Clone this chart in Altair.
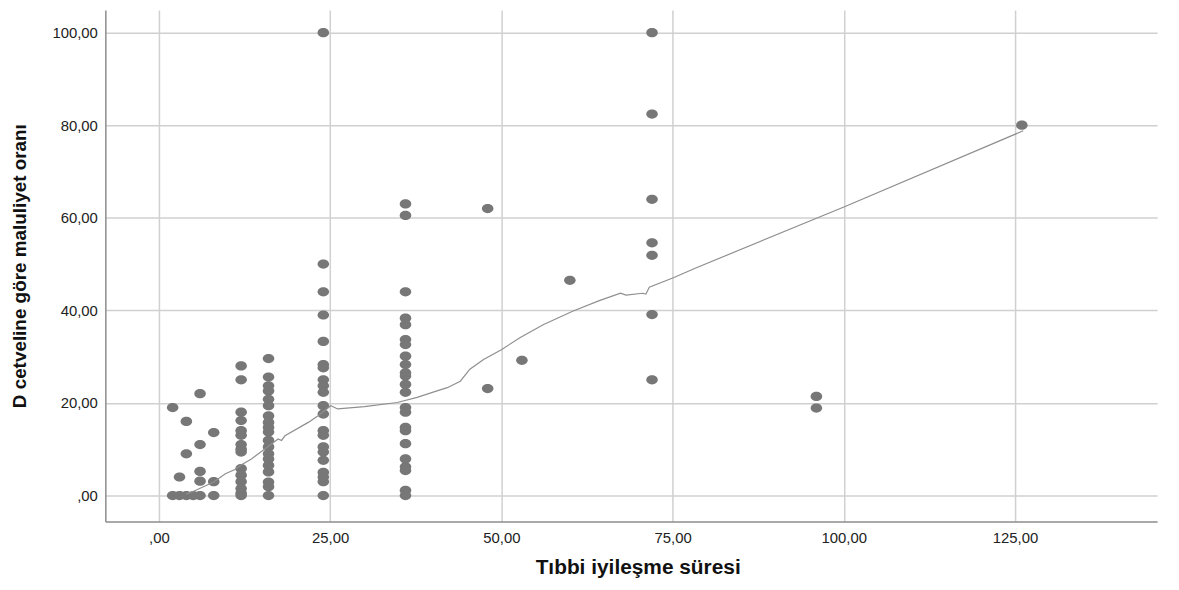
import altair as alt
import pandas as pd

# Data (x = months, y = disability rate)
r_02 = [19.0, 0.0]
r_03 = [4.0, 0.0]
r_04 = [16.0, 9.0, 0.0]
r_05 = [0.0]
r_06 = [22.0, 11.0, 5.2, 3.1, 0.0]
r_08 = [13.6, 3.0, 0.0]
r_12 = [28.0, 25.0, 18.0, 16.2, 14.0, 13.0, 11.0, 10.0, 9.4, 5.8, 4.4, 3.0, 1.5, 0.5, 0.0]
r_16 = [29.6, 25.6, 23.7, 22.6, 20.8, 19.4, 17.2, 15.8, 14.7, 13.7, 11.9, 10.5, 9.0,
        7.9, 6.5, 5.1, 2.9, 1.9, 0.0]
r_24 = [100.0, 50.0, 44.0, 39.0, 33.3, 28.3, 27.6, 25.0, 23.7, 22.3, 19.4, 17.6, 14.0,
        13.0, 10.5, 9.4, 7.6, 5.0, 4.0, 3.0, 0.0]
r_36 = [63.0, 60.5, 44.0, 38.3, 36.9, 33.7, 32.6, 30.1, 28.3, 26.5, 25.8, 24.0, 22.3,
        19.0, 18.0, 14.7, 14.0, 11.2, 7.9, 6.2, 5.4, 1.1, 0.0]
r_48 = [62.0, 23.1]
r_53 = [29.2]
r_60 = [46.5]
r_72 = [100.0, 82.4, 64.0, 54.6, 51.9, 39.1, 25.0]
r_96 = [21.4, 18.9]
r_126 = [80.0]

months = [2, 3, 4, 5, 6, 8, 12, 16, 24, 36, 48, 53, 60, 72, 96, 126]
groups = [r_02, r_03, r_04, r_05, r_06, r_08, r_12, r_16, r_24, r_36, r_48, r_53,
          r_60, r_72, r_96, r_126]

# Loess fit line
fit_x = [4.0, 5.3, 8.0, 9.7, 11.1, 12.0, 13.5, 15.5, 17.4, 17.9, 18.4, 21.8, 23.2,
         25.1, 26.1, 30.0, 34.8, 37.7, 40.6, 42.1, 44.0, 45.4, 47.4, 50.0, 52.7,
         56.1, 60.4, 64.3, 67.4, 68.2, 70.6, 71.1, 71.6, 75.2, 78.3, 100.1, 126.2]
fit_y = [0.3, 1.1, 2.9, 4.7, 5.6, 6.6, 7.9, 10.1, 12.2, 11.9, 12.9, 15.8, 17.2,
         19.4, 18.7, 19.2, 20.1, 21.2, 22.6, 23.3, 24.7, 27.3, 29.4, 31.5, 34.1,
         36.9, 39.8, 42.1, 43.7, 43.3, 43.7, 43.5, 45.0, 47.1, 49.1, 62.4, 78.8]

x_ticks = [0, 25, 50, 75, 100, 125]
y_ticks = [0, 20, 40, 60, 80, 100]

pts = pd.DataFrame(
    [{"t": m, "r": v} for m, g in zip(months, groups) for v in g]
)
fit = pd.DataFrame({"t": fit_x, "r": fit_y})

FONT = "Liberation Sans, Arial, sans-serif"
label_expr = "datum.value == 0 ? ',00' : replace(format(datum.value, '.2f'), '.', ',')"

x_scale = alt.Scale(domain=[-7.83, 145.75], nice=False, zero=False)
y_scale = alt.Scale(domain=[-5.6, 104.9], nice=False, zero=False)

x_axis = alt.Axis(
    values=x_ticks, labelExpr=label_expr, grid=True, ticks=False,
    gridColor="#d0d0d0", gridWidth=1.5,
    domainColor="#8c8c8c", domainWidth=1.5,
    labelFont=FONT, labelFontSize=15, labelColor="#222222", labelPadding=9,
    title="Tıbbi iyileşme süresi", titleFont=FONT, titleFontSize=21,
    titleFontWeight="bold", titleColor="#111111",
    titleX=536, titleY=52, titleAlign="center", titleBaseline="alphabetic",
)
y_axis = alt.Axis(
    values=y_ticks, labelExpr=label_expr, grid=True, ticks=False,
    gridColor="#d0d0d0", gridWidth=1.5,
    domainColor="#8c8c8c", domainWidth=1.5,
    labelFont=FONT, labelFontSize=15, labelColor="#222222", labelPadding=8,
    title="D cetveline göre maluliyet oranı", titleFont=FONT, titleFontSize=19,
    titleFontWeight="bold", titleColor="#111111", titlePadding=22,
)

# slightly wide ellipse marker, as in the reference
ellipse = "M-1,0 A1,0.8 0 1,0 1,0 A1,0.8 0 1,0 -1,0 Z"

points = alt.Chart(pts).mark_point(
    shape=ellipse, size=135, filled=True, color="#777777", opacity=1, strokeWidth=0
).encode(
    x=alt.X("t:Q", scale=x_scale, axis=x_axis),
    y=alt.Y("r:Q", scale=y_scale, axis=y_axis),
)

line = alt.Chart(fit).mark_line(color="#8f8f8f", strokeWidth=1.2).encode(
    x=alt.X("t:Q", scale=x_scale),
    y=alt.Y("r:Q", scale=y_scale),
    order="t:Q",
)

chart = (
    alt.layer(points, line)
    .properties(
        width=1059, height=515,
        autosize=alt.AutoSizeParams(type="none"),
        padding={"left": 98, "top": 0, "right": 14, "bottom": 59},
        background="white",
    )
    .configure_view(strokeWidth=0)
)

chart.save("out.html", embed_options={"renderer": "svg", "actions": False})
